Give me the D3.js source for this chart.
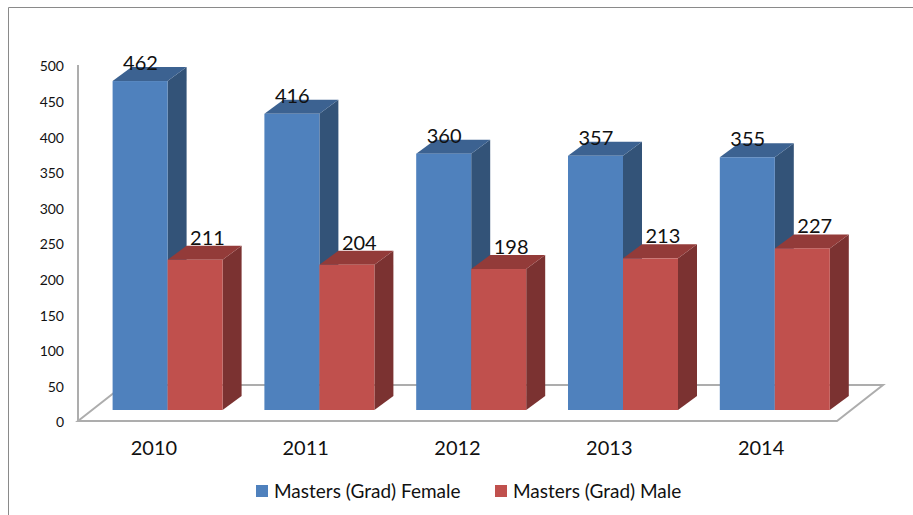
<!DOCTYPE html>
<html>
<head>
<meta charset="utf-8">
<script src="https://cdn.jsdelivr.net/npm/d3@7"></script>
<style>
body { margin: 0; background: #fff; }
svg { display: block; font-family: Lato, sans-serif; }
.domain { display: none; }
.tick line { display: none; }
</style>
</head>
<body>
<script>
var width = 913,
    height = 515;

var years = ["2010", "2011", "2012", "2013", "2014"];
var seriesNames = ["Masters (Grad) Female", "Masters (Grad) Male"];
var female = [462, 416, 360, 357, 355];
var male = [211, 204, 198, 213, 227];
var yTicks = [0, 50, 100, 150, 200, 250, 300, 350, 400, 450, 500];

var depth = {x: 46, y: 36};      // floor depth
var barDepth = {x: 19, y: 14};   // bar depth
var barLift = 11;                // bars stand this far up from the floor front edge
var colors = [
    {front: "#4f81bd", side: "#335378", top: "#3c6291"},
    {front: "#c0504d", side: "#7b3231", top: "#933b39"}
];

var svg = d3.select("body").append("svg")
    .attr("width", width)
    .attr("height", height);

// frame, only top and left edges are visible
svg.append("path")
    .attr("d", "M8.5,515V7.5H913")
    .attr("fill", "none")
    .attr("stroke", "#8a8a8a");

var x = d3.scaleBand()
    .domain(years)
    .range([78, 837]);

var series = d3.scaleBand()
    .domain([0, 1])
    .range([35, 145]);

var y = d3.scaleLinear()
    .domain([0, 500])
    .range([421, 65]);

// floor
svg.append("path")
    .attr("d", "M" + x.range()[0] + "," + y(0) +
        "L" + (x.range()[0] + depth.x) + "," + (y(0) - depth.y) +
        "H" + (x.range()[1] + depth.x) +
        "L" + x.range()[1] + "," + y(0) + "Z")
    .attr("fill", "#fff")
    .attr("stroke", "#adadad")
    .attr("stroke-width", 2);

// y axis
svg.append("line")
    .attr("x1", x.range()[0])
    .attr("x2", x.range()[0])
    .attr("y1", y(500))
    .attr("y2", y(0))
    .attr("stroke", "#adadad")
    .attr("stroke-width", 2);

svg.append("g")
    .attr("transform", "translate(78,1.5)")
    .call(d3.axisLeft(y).tickValues(yTicks).tickSize(0).tickPadding(14))
    .selectAll("text")
    .attr("font-family", "Lato, sans-serif")
    .attr("font-size", 14)
    .attr("fill", "#111");

svg.append("g")
    .attr("transform", "translate(0,438)")
    .call(d3.axisBottom(x).tickSize(0).tickPadding(3))
    .selectAll("text")
    .attr("font-family", "Lato, sans-serif")
    .attr("font-size", 20)
    .attr("fill", "#111");

// bars
[female, male].forEach(function(values, s) {
    var c = colors[s];
    var g = svg.append("g").selectAll("g")
        .data(values)
        .enter().append("g")
        .attr("transform", function(d, i) {
            return "translate(" + (x(years[i]) + series(s) - 0.4) + "," + (-barLift) + ")";
        });
    var w = series.bandwidth();

    g.append("path")
        .attr("fill", c.side)
        .attr("d", function(d) {
            return "M" + w + "," + y(d) + "l" + barDepth.x + "," + (-barDepth.y) +
                "V" + (y(0) - barDepth.y) + "L" + w + "," + y(0) + "Z";
        });
    g.append("path")
        .attr("fill", c.top)
        .attr("d", function(d) {
            return "M0," + y(d) + "l" + barDepth.x + "," + (-barDepth.y) +
                "h" + w + "l" + (-barDepth.x) + "," + barDepth.y + "Z";
        });
    g.append("rect")
        .attr("y", function(d) { return y(d); })
        .attr("width", w)
        .attr("height", function(d) { return y(0) - y(d); })
        .attr("fill", c.front);
});

// data labels are drawn last, they sit over the bar tops
[female, male].forEach(function(values, s) {
    svg.append("g").selectAll("text")
        .data(values)
        .enter().append("text")
        .attr("x", function(d, i) {
            return x(years[i]) + series(s) + series.bandwidth() / 2 + (s ? 12 : 0);
        })
        .attr("y", function(d) { return y(d) - barLift - (s ? 15 : 11); })
        .attr("text-anchor", "middle")
        .attr("font-size", 20)
        .attr("fill", "#111")
        .text(function(d) { return d; });
});

// legend
var legendX = [256, 495];
var legend = svg.append("g").selectAll("g")
    .data(seriesNames)
    .enter().append("g")
    .attr("transform", function(d, i) { return "translate(" + legendX[i] + ",485)"; });

legend.append("rect")
    .attr("width", 12)
    .attr("height", 12)
    .attr("fill", function(d, i) { return colors[i].front; });

legend.append("text")
    .attr("x", 18)
    .attr("y", 13)
    .attr("font-size", 19)
    .attr("fill", "#111")
    .text(function(d) { return d; });
</script>
</body>
</html>
